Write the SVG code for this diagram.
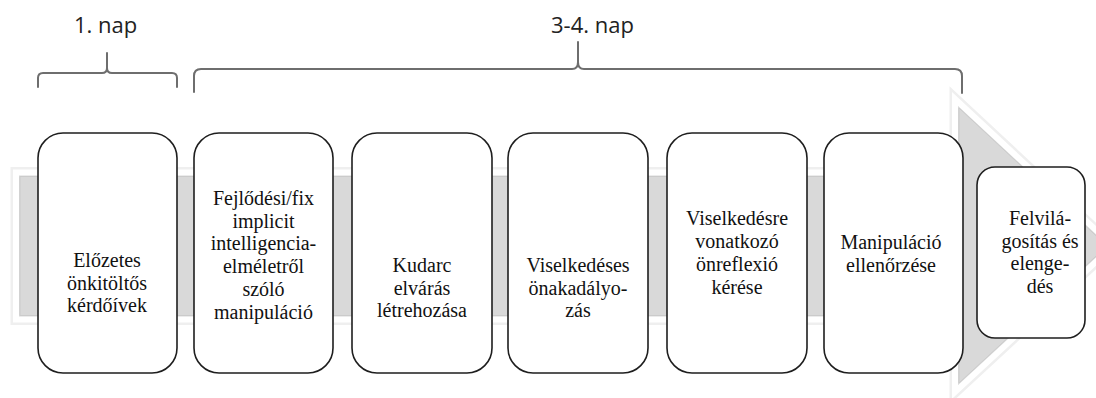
<svg xmlns="http://www.w3.org/2000/svg" width="1096" height="398" viewBox="0 0 1096 398">
  <style>
    .lbl { font-family: "Open Sans", "Liberation Sans", sans-serif; font-size: 22px; fill: #222; }
    .brace { fill: none; stroke: #6e6e6e; stroke-width: 2; stroke-linecap: round; stroke-linejoin: round; }
    .box { fill: #ffffff; stroke: #1e1e1e; stroke-width: 1.6; }
    .txt { font-family: 'Liberation Serif', 'DejaVu Serif', serif; font-size: 20px; fill: #111; text-anchor: middle; }
  </style>
  <rect x="0" y="0" width="1096" height="398" fill="#ffffff"/>

  <g id="arrow">
    <polygon points="16,172.5 955,172.5 955,99 1113,246 955,392 955,319.5 16,319.5" fill="none" stroke="#efefef" stroke-width="11" stroke-linejoin="miter"/>
    <polygon points="16,172.5 955,172.5 955,99 1113,246 955,392 955,319.5 16,319.5" fill="#d9d9d9" stroke="#ffffff" stroke-width="6" stroke-linejoin="miter"/>
    <polygon points="20,176.5 959,176.5 959,108 1107,246 959,383 959,315.5 20,315.5" fill="none" stroke="#cbcbcb" stroke-width="1"/>
  </g>

  <g id="connectors">
    <g id="brace-day1">
      <path class="brace" d="M38,87 L38,78 Q38,73 43,73 L102,73 Q107,73 107,68 Q107,73 112,73 L172,73 Q177,73 177,78 L177,87 M107,68 L107,53"/>
      <text class="lbl" x="74" y="33">1. nap</text>
    </g>
    <g id="brace-day34">
      <path class="brace" d="M194,92 L194,76 Q194,69 201,69 L572,69 Q578,69 578,62 Q578,69 584,69 L955,69 Q962,69 962,76 L962,93 M578,62 L578,42"/>
      <text class="lbl" x="551" y="33">3-4. nap</text>
    </g>
  </g>

  <g font-family="Liberation Serif, DejaVu Serif, serif">
  <g id="node1">
    <rect class="box" x="38" y="133" width="139" height="240" rx="25" ry="25"/>
    <text class="txt" x="107" y="267">Előzetes</text>
    <text class="txt" x="107" y="289.5">önkitöltős</text>
    <text class="txt" x="107" y="312">kérdőívek</text>
  </g>
  <g id="node2">
    <rect class="box" x="194" y="133" width="139" height="240" rx="25" ry="25"/>
    <text class="txt" x="263.5" y="205">Fejlődési/fix</text>
    <text class="txt" x="263.5" y="227.7">implicit</text>
    <text class="txt" x="263.5" y="250.4">intelligencia-</text>
    <text class="txt" x="263.5" y="273.1">elméletről</text>
    <text class="txt" x="263.5" y="295.8">szóló</text>
    <text class="txt" x="263.5" y="318.5">manipuláció</text>
  </g>
  <g id="node3">
    <rect class="box" x="352" y="133" width="140" height="240" rx="25" ry="25"/>
    <text class="txt" x="422" y="272">Kudarc</text>
    <text class="txt" x="422" y="294.5">elvárás</text>
    <text class="txt" x="422" y="317">létrehozása</text>
  </g>
  <g id="node4">
    <rect class="box" x="508" y="133" width="140" height="240" rx="25" ry="25"/>
    <text class="txt" x="578" y="272">Viselkedéses</text>
    <text class="txt" x="578" y="294.5">önakadályo-</text>
    <text class="txt" x="578" y="317">zás</text>
  </g>
  <g id="node5">
    <rect class="box" x="667" y="133" width="140" height="240" rx="25" ry="25"/>
    <text class="txt" x="737" y="225">Viselkedésre</text>
    <text class="txt" x="737" y="248">vonatkozó</text>
    <text class="txt" x="737" y="271">önreflexió</text>
    <text class="txt" x="737" y="294">kérése</text>
  </g>
  <g id="node6">
    <rect class="box" x="824" y="133" width="139" height="240" rx="25" ry="25"/>
    <text class="txt" x="891" y="248.5">Manipuláció</text>
    <text class="txt" x="891" y="271.5">ellenőrzése</text>
  </g>
  <g id="node7">
    <rect class="box" x="977" y="167" width="108" height="171" rx="18" ry="18"/>
    <text class="txt" x="1040" y="225">Felvilá-</text>
    <text class="txt" x="1040" y="247.5">gosítás és</text>
    <text class="txt" x="1040" y="270">elenge-</text>
    <text class="txt" x="1040" y="292.5">dés</text>
  </g>
  </g>
</svg>
